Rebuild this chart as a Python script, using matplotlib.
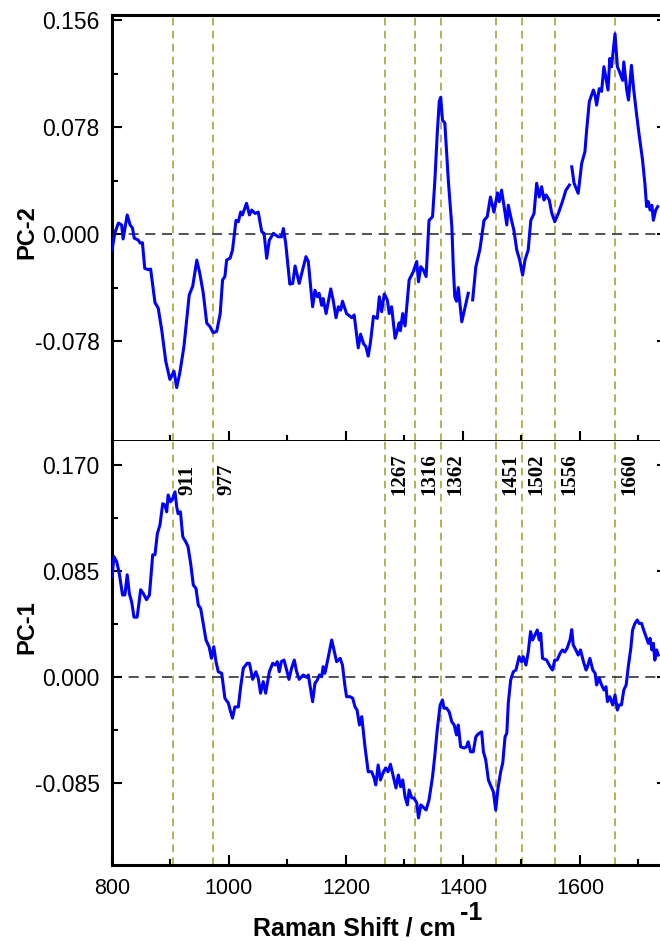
"""PCA loadings of Raman spectra (PC-1 / PC-2)"""
import numpy as np
import matplotlib
matplotlib.use("Agg")
import matplotlib.pyplot as plt

plt.rcParams['font.family'] = ['Liberation Sans', 'DejaVu Sans']
plt.rcParams['axes.unicode_minus'] = False

nan = np.nan

# PC-2 loading (nan = gap in the trace)
pc2_shift = [800, 805, 811, 816.5, 819, 826, 831, 835, 838, 845, 848, 852, 856, 862, 866,
             873.5, 879, 885, 892, 899, 906, 910.6, 916, 923, 932, 938, 945, 950, 956, 962,
             967.5, 973, 979, 985, 989, 993, 996, 1002, 1006, 1012, 1016, 1020, 1023, 1030,
             1035, 1039, 1044.5, 1050, 1056, 1060, 1064.5, 1069, 1076, 1084, 1090, 1093, 1097,
             1104, 1109, 1113, 1120, 1131.6, 1135.6, 1138.5, 1143, 1147, 1151, 1154, 1158.5,
             1161, 1166, 1174, 1178, 1183, 1187, 1191, 1194, 1201, 1210, 1214, 1221, 1225,
             1230, 1234, 1238, 1242, 1247, 1253.5, 1257, 1261, 1265.5, 1270.6, 1274, 1278,
             1284, 1288, 1291, 1293, 1297, 1301, 1304, 1308, 1315, 1321, 1324, 1328, 1332,
             1337, 1342, 1348, 1352, 1356, 1359.5, 1362, 1365, 1369, 1375, 1381, 1383.5, 1386,
             1389, 1392, 1398, 1409, 1413, 1416.6, 1422, 1429, 1436, 1441.5, 1447, 1453, 1459,
             1462, 1466, 1470, 1475, 1477.5, 1483, 1487, 1492, 1497, 1502, 1506, 1511.5, 1516,
             1521.5, 1526, 1530.5, 1534.5, 1538.5, 1542, 1547.5, 1552, 1557, 1563, 1570, 1576,
             1582, 1584, 1586, 1590, 1597, 1603, 1608.5, 1611.5, 1616, 1623, 1626, 1628.5,
             1633, 1637, 1641, 1644.5, 1648, 1651, 1654, 1660, 1664, 1668, 1673, 1675, 1680,
             1683, 1688, 1692, 1697, 1701, 1707, 1711, 1714, 1717, 1720, 1723, 1725.5, 1729.5,
             1733]
pc2_val = [-0.0117, 0.001, 0.008, 0.0066, -0.0036, 0.0139, 0.0066, 0.0044, -0.003, -0.0044,
           -0.0066, -0.0063, -0.025, -0.026, -0.0255, -0.050, -0.054, -0.070, -0.093, -0.106,
           -0.100, -0.112, -0.101, -0.082, -0.0445, -0.038, -0.019, -0.0285, -0.043, -0.065,
           -0.0675, -0.072, -0.071, -0.058, -0.0335, -0.031, -0.019, -0.0175, -0.0117, 0.010,
           0.009, 0.016, 0.0139, 0.0224, 0.0139, 0.0175, 0.015, 0.016, 0.0017, 0.0005, -0.0177,
           -0.0044, 0.0005, -0.002, -0.002, 0.004, -0.0068, -0.0365, -0.036, -0.0233, -0.036,
           -0.0165, -0.020, -0.0335, -0.053, -0.041, -0.0457, -0.0432, -0.052, -0.047, -0.058,
           -0.040, -0.048, -0.061, -0.053, -0.0555, -0.049, -0.058, -0.061, -0.059, -0.083,
           -0.073, -0.080, -0.082, -0.089, -0.0785, -0.060, -0.0615, -0.0457, -0.0566, -0.0437,
           -0.048, -0.058, -0.053, -0.076, -0.070, -0.0647, -0.0705, -0.058, -0.067, -0.053,
           -0.0335, -0.0275, -0.020, -0.0348, -0.0238, -0.026, -0.031, 0.010, 0.0126, 0.039,
           0.073, 0.0965, 0.0997, 0.083, 0.081, 0.039, 0.0053, -0.024, -0.0457, -0.049, -0.039,
           -0.064, -0.0432, nan, -0.048, -0.024, -0.0111, 0.010, 0.0126, 0.027, 0.016, 0.030,
           0.0236, 0.032, 0.021, 0.0066, 0.021, 0.010, 0.003, -0.0117, -0.019, -0.030, -0.019,
           -0.0117, 0.010, 0.015, 0.037, 0.027, 0.0345, 0.0248, 0.0285, 0.0248, 0.015, 0.009,
           0.015, 0.0236, 0.032, 0.0357, nan, 0.049, 0.037, 0.0297, 0.0515, 0.060, 0.076,
           0.0965, 0.105, 0.101, 0.094, 0.106, 0.104, 0.122, 0.1135, 0.105, 0.128, 0.122, 0.146,
           0.122, 0.118, 0.112, 0.1255, 0.105, 0.0977, 0.123, 0.105, 0.0867, 0.073, 0.054, 0.037,
           0.020, 0.0236, 0.0175, 0.021, 0.010, 0.0175, 0.020]

# PC-1 loading
pc1_shift = [800, 803.4, 808, 812.5, 818, 822, 826, 829.6, 833.7, 837.6, 843, 849, 853.5, 859,
             864, 869.6, 873.5, 877.5, 882, 886.7, 890.6, 893.5, 896, 900, 903.7, 907.7, 910.6,
             913, 917, 921, 926, 930, 934.5, 939, 943.6, 947.5, 951.6, 956, 960.7, 966, 970,
             974, 977.8, 981.7, 987.5, 993, 999, 1002, 1006, 1010, 1016, 1020, 1024.5, 1031,
             1035, 1040.5, 1046, 1050, 1054, 1058.5, 1062.7, 1069, 1074.7, 1078.6, 1082.6, 1086,
             1089.5, 1094, 1098.6, 1102.5, 1107, 1111.6, 1115.7, 1120, 1127, 1133, 1135.6,
             1139.7, 1143, 1147, 1151, 1154.5, 1158.5, 1161, 1164, 1167, 1171.5, 1175.6, 1179.5,
             1184, 1190, 1194, 1198, 1201, 1207, 1211.5, 1215.5, 1219, 1223, 1227, 1232.5, 1238,
             1244, 1248, 1251, 1255, 1259, 1264, 1268, 1272, 1276, 1281, 1285.5, 1289.5, 1293.5,
             1297, 1301, 1305, 1308, 1312.5, 1316, 1321, 1324, 1328, 1331, 1337, 1342, 1348,
             1352, 1356, 1361, 1365, 1367.5, 1372, 1376.5, 1381, 1385, 1389, 1392, 1396, 1402,
             1406, 1409, 1413, 1417.6, 1422, 1426, 1432, 1435, 1439, 1443.5, 1447, 1452, 1456,
             1460, 1464.5, 1468, 1472, 1475, 1477.5, 1481.6, 1486, 1490.6, 1496, 1500, 1503,
             1507.7, 1511.6, 1515.6, 1519, 1523, 1527, 1530.5, 1533, 1536, 1543, 1549, 1553,
             1557, 1561, 1566, 1570, 1574, 1578, 1583, 1586, 1588.5, 1593, 1597, 1601, 1606,
             1610.5, 1613, 1617, 1622, 1626, 1628.5, 1633, 1637, 1641, 1644.5, 1647, 1651, 1656,
             1660, 1664, 1667, 1671, 1675, 1679, 1683, 1687, 1690, 1694, 1698, 1701, 1705.5,
             1708, 1712, 1717, 1720, 1723, 1725.5, 1728, 1731, 1734]
pc1_val = [0.0804, 0.0965, 0.0925, 0.083, 0.0658, 0.0658, 0.082, 0.067, 0.060, 0.048, 0.048,
           0.070, 0.067, 0.062, 0.0658, 0.098, 0.098, 0.115, 0.122, 0.139, 0.138, 0.1325, 0.146,
           0.1405, 0.143, 0.1485, 0.1365, 0.131, 0.1325, 0.1125, 0.1085, 0.1045, 0.091, 0.0738,
           0.071, 0.0577, 0.055, 0.043, 0.0297, 0.0243, 0.015, 0.0243, 0.0123, 0.0042, 0.003,
           -0.017, -0.021, -0.0265, -0.033, -0.024, -0.024, -0.0078, 0.007, 0.011, 0.011,
           -0.0019, 0.0042, -0.001, -0.013, -0.0037, -0.013, 0.0042, 0.011, 0.0096, 0.0123,
           0.0042, 0.0123, 0.0136, 0.0056, -0.0019, 0.007, 0.0136, 0.0042, -0.0019, 0.0016,
           -0.0003, 0.0016, -0.0104, -0.0198, -0.005, -0.0024, 0.0016, 0.0002, 0.0083, 0.003,
           0.0096, 0.020, 0.0297, 0.0217, 0.0123, 0.015, 0.0096, -0.0064, -0.0158, -0.0158,
           -0.017, -0.024, -0.0265, -0.0385, -0.0318, -0.056, -0.076, -0.076, -0.081, -0.0866,
           -0.0706, -0.0826, -0.076, -0.073, -0.076, -0.070, -0.080, -0.089, -0.0786, -0.088,
           -0.0826, -0.096, -0.1026, -0.0906, -0.097, -0.097, -0.101, -0.113, -0.1026, -0.104,
           -0.1067, -0.0986, -0.080, -0.0625, -0.0425, -0.0225, -0.0184, -0.025, -0.025, -0.028,
           -0.036, -0.0385, -0.0465, -0.0385, -0.056, -0.057, -0.056, -0.052, -0.060, -0.060,
           -0.048, -0.0457, -0.044, -0.060, -0.0666, -0.0826, -0.0866, -0.092, -0.1067, -0.089,
           -0.076, -0.069, -0.048, -0.045, -0.021, -0.0024, 0.0042, 0.0056, 0.0163, 0.0123,
           0.0163, 0.0096, 0.020, 0.0364, 0.0297, 0.0337, 0.0377, 0.0297, 0.035, 0.015, 0.0136,
           0.0083, 0.0056, 0.0136, 0.0136, 0.019, 0.0217, 0.020, 0.023, 0.0297, 0.038, 0.0257,
           0.0217, 0.0176, 0.0217, 0.0123, 0.0056, 0.0083, 0.015, 0.0056, 0.003, -0.0064, -0.001,
           -0.0064, -0.0104, -0.0078, -0.0198, -0.0158, -0.0224, -0.0144, -0.0265, -0.0224,
           -0.0224, -0.0104, -0.0064, 0.0096, 0.023, 0.0377, 0.043, 0.0457, 0.043, 0.043, 0.039,
           0.0337, 0.027, 0.031, 0.0217, 0.027, 0.0136, 0.0217, 0.0176]

# marked bands: where the guide lines sit and what they are labelled
band_pos = [905, 972, 1267, 1318, 1362, 1456, 1501, 1557, 1660]
band_labels = ['911', '977', '1267', '1316', '1362', '1451', '1502', '1556', '1660']

pc2_ticks = [0.156, 0.078, 0.0, -0.078]
pc2_ticklabels = ['0.156', '0.078', '0.000', '-0.078']
pc1_ticks = [0.170, 0.085, 0.0, -0.085]
pc1_ticklabels = ['0.170', '0.085', '0.000', '-0.085']
x_ticks = [800, 1000, 1200, 1400, 1600]

guide_color = '#9c9c2c'
curve_color = '#0000ff'

fig = plt.figure(figsize=(6.6, 9.41), dpi=100)
left, width = 112 / 660, (663 - 112) / 660
ax2 = fig.add_axes([left, 1 - 441 / 941, width, 426 / 941])
ax1 = fig.add_axes([left, 1 - 865 / 941, width, 424 / 941])


def style_axis(ax, ticks, ticklabels, minor_step):
    ax.set_xlim(800, 1742)
    ax.set_xticks(x_ticks)
    ax.set_xticks(np.arange(900, 1742, 200), minor=True)
    ax.set_yticks(ticks)
    ax.set_yticklabels(ticklabels)
    ax.set_yticks([t + minor_step for t in ticks], minor=True)
    ax.tick_params(which='both', direction='in', width=1.5, pad=9)
    ax.tick_params(axis='y', labelsize=16.5)
    ax.tick_params(axis='x', labelsize=15.5)
    ax.tick_params(which='major', length=7)
    ax.tick_params(which='minor', length=4)
    ax.spines['left'].set_linewidth(2.2)
    ax.spines['right'].set_linewidth(2.2)
    for x in band_pos:
        ax.axvline(x, color=guide_color, lw=1.1, ls=(0, (5, 3.5)), zorder=1)
    ax.axhline(0, color='#333333', lw=1.2, ls=(0, (6, 4)), zorder=1)
    sec = ax.secondary_yaxis('right')
    sec.set_yticks(ticks)
    sec.set_yticklabels([])
    sec.tick_params(direction='in', length=4, width=1.5)


# PC-2 panel
style_axis(ax2, pc2_ticks, pc2_ticklabels, 0.039)
ax2.plot(pc2_shift, pc2_val, color=curve_color, lw=2.2, zorder=3)
ax2.set_ylim(-0.1509, 0.1597)
ax2.set_xticklabels([])
ax2.spines['top'].set_linewidth(2.2)
ax2.spines['bottom'].set_linewidth(1.4)
ax2.set_ylabel('PC-2', fontsize=17, fontweight='bold')
ax2.yaxis.set_label_coords(-0.133, 0.49)

# PC-1 panel
style_axis(ax1, pc1_ticks, pc1_ticklabels, 0.0425)
ax1.plot(pc1_shift, pc1_val, color=curve_color, lw=2.2, zorder=3)
ax1.set_ylim(-0.1508, 0.1893)
ax1.spines['top'].set_visible(False)
ax1.spines['bottom'].set_linewidth(2.2)
ax1.set_xticklabels([str(t) for t in x_ticks])
ax1.set_ylabel('PC-1', fontsize=17, fontweight='bold')
ax1.yaxis.set_label_coords(-0.133, 0.56)

# x label with a plain hyphen in the superscript, as in the original
fig.text(253 / 660, 1 - 935 / 941, 'Raman Shift / cm', fontsize=18, fontweight='bold',
         ha='left', va='baseline')
fig.text(460 / 660, 1 - 920 / 941, '-1', fontsize=18, fontweight='bold',
         ha='left', va='baseline')

for x, lab in zip(band_pos, band_labels):
    ax1.annotate(lab, xy=(x, 0.146), xytext=(3, 0), textcoords='offset points',
                 rotation=90, ha='left', va='bottom', fontsize=15,
                 fontweight='bold', family='Liberation Serif')

fig.savefig('out.png', dpi=100)
